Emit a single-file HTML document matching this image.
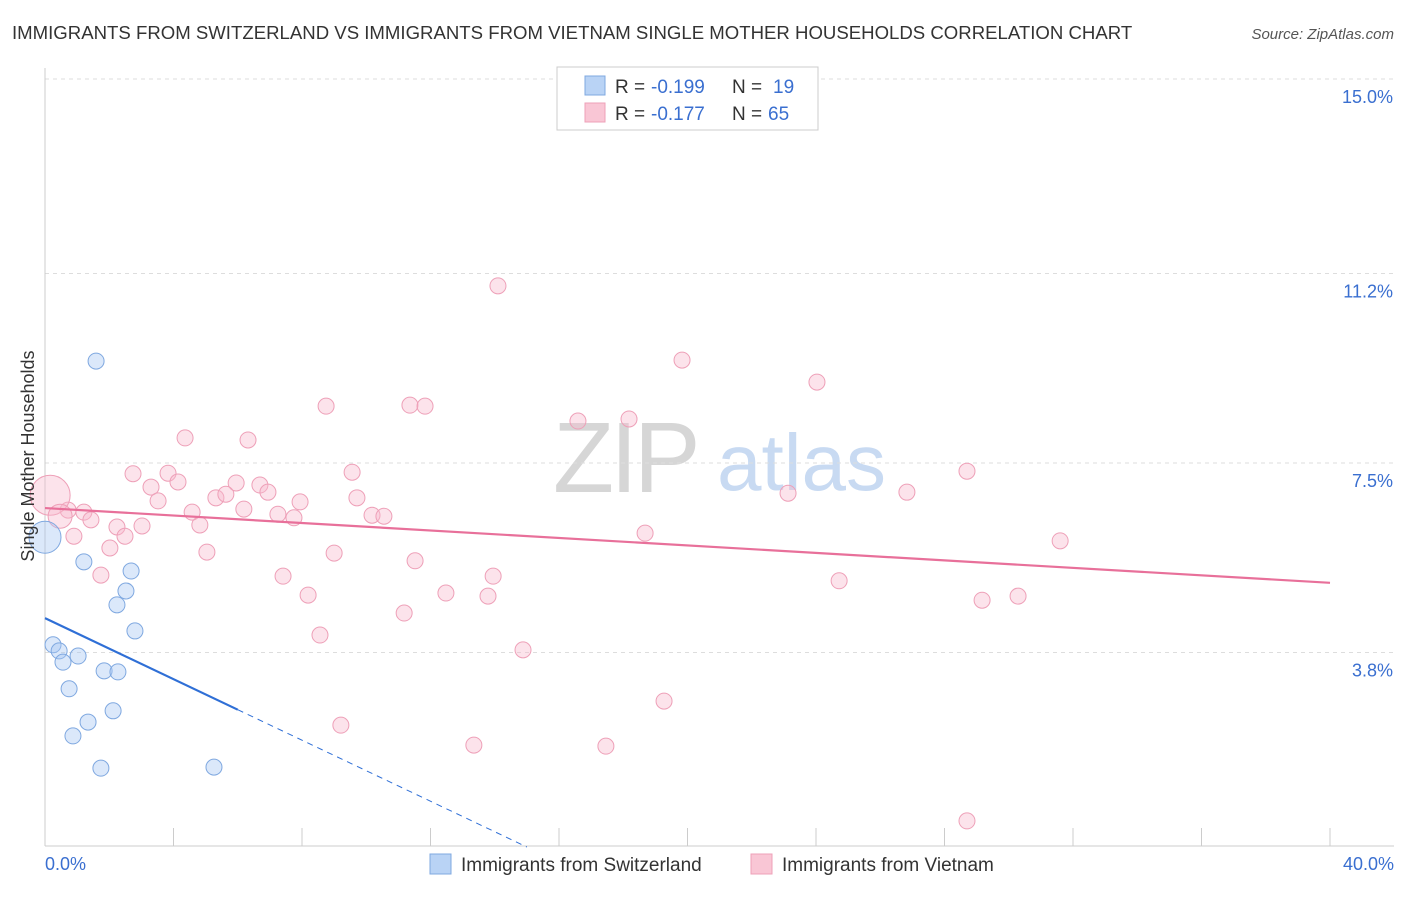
<!DOCTYPE html>
<html><head><meta charset="utf-8"><style>
body{margin:0;background:#fff;font-family:"Liberation Sans",sans-serif;}
svg text{font-family:"Liberation Sans",sans-serif;}
</style></head><body>
<svg id="chart" width="1406" height="892" viewBox="0 0 1406 892">
<text x="12" y="39" font-size="18.6" fill="#333">IMMIGRANTS FROM SWITZERLAND VS IMMIGRANTS FROM VIETNAM SINGLE MOTHER HOUSEHOLDS CORRELATION CHART</text>
<text x="1394" y="39" font-size="15" fill="#555" font-style="italic" text-anchor="end">Source: ZipAtlas.com</text>
<g>
<text x="553" y="492" font-size="100" fill="#d6d6d6" font-family="Liberation Serif" letter-spacing="-4">ZIP</text>
<text x="717" y="490" font-size="80" fill="#c8daf2">atlas</text>
</g>
<g id="grid"></g><g id="axes"></g><g id="marks"></g>
<text transform="translate(34,456) rotate(-90)" font-size="18" fill="#333" text-anchor="middle">Single Mother Households</text>
<g>
<rect x="557" y="67" width="261" height="63" fill="#fff" stroke="#ccc"/>
<rect x="585" y="76" width="20" height="19" fill="#b9d3f5" stroke="#7fa8e0"/>
<rect x="585" y="103" width="20" height="19" fill="#f9c6d5" stroke="#eea0b8"/>
<text x="615" y="93" font-size="19" fill="#333">R =</text>
<text x="651" y="93" font-size="19" fill="#3a6fd0">-0.199</text>
<text x="732" y="93" font-size="19" fill="#333">N =</text>
<text x="773" y="93" font-size="19" fill="#3a6fd0">19</text>
<text x="615" y="120" font-size="19" fill="#333">R =</text>
<text x="651" y="120" font-size="19" fill="#3a6fd0">-0.177</text>
<text x="732" y="120" font-size="19" fill="#333">N =</text>
<text x="768" y="120" font-size="19" fill="#3a6fd0">65</text>
</g>
<g>
<rect x="430" y="854" width="21" height="20" fill="#b9d3f5" stroke="#7fa8e0"/>
<text x="461" y="871" font-size="19" fill="#333">Immigrants from Switzerland</text>
<rect x="751" y="854" width="21" height="20" fill="#f9c6d5" stroke="#eea0b8"/>
<text x="782" y="871" font-size="19" fill="#333">Immigrants from Vietnam</text>
</g>
</svg>
<script>
const yTicks=[15.0,11.2,7.5,3.8];
const yTickLabels=["15.0%","11.2%","7.5%","3.8%"];
const xTickLabels=["0.0%","40.0%"];
const swissX=[1.59,1.21,2.68,2.52,2.24,2.80,0.25,0.44,1.03,0.56,1.84,2.27,0.75,2.12,1.34,0.87,1.74,5.26,0.0];
const swissY=[9.49,5.57,5.39,5.00,4.73,4.22,3.95,3.83,3.73,3.61,3.44,3.42,3.09,2.66,2.44,2.17,1.54,1.56,6.05];
const swissR=[8,8,8,8,8,8,8,8,8,8,8,8,8,8,8,8,8,8,16];
const vietX=[14.10,19.83,24.03,8.75,11.36,11.83,16.59,18.18,4.36,6.32,9.56,28.70,2.74,3.83,3.30,4.14,5.95,6.69,6.94,3.52,5.32,5.63,7.94,9.71,23.13,26.83,6.19,4.58,7.25,7.75,10.18,10.55,1.21,0.72,1.43,2.24,3.02,4.82,2.49,0.90,18.68,31.60,2.02,5.04,9.00,11.52,1.74,7.41,13.95,24.72,8.19,12.48,13.79,29.17,30.29,11.18,8.56,14.88,19.27,9.21,13.35,17.46,28.70,0.16,0.47];
const vietY=[10.96,9.51,9.08,8.61,8.63,8.61,8.32,8.36,7.99,7.95,7.32,7.34,7.29,7.30,7.03,7.13,7.11,7.07,6.93,6.76,6.82,6.89,6.74,6.82,6.91,6.93,6.60,6.54,6.50,6.43,6.48,6.46,6.54,6.58,6.39,6.25,6.27,6.29,6.07,6.07,6.13,5.98,5.84,5.76,5.74,5.59,5.31,5.29,5.29,5.20,4.92,4.96,4.90,4.82,4.90,4.57,4.14,3.85,2.85,2.38,1.99,1.97,0.51,6.87,6.46];
const swissLine=[4.47,-0.298];
const vietLine=[6.62,-0.0365];
const X=v=>45+v*32.125, Y=v=>79+(15-v)*51.2;
const NS="http://www.w3.org/2000/svg";
function mk(t,a,p){const e=document.createElementNS(NS,t);for(const k in a)e.setAttribute(k,a[k]);p.appendChild(e);return e;}
const grid=document.getElementById('grid'),axes=document.getElementById('axes'),marks=document.getElementById('marks');
yTicks.forEach((v,i)=>{
 const l=mk('line',{x1:45,x2:1394,y1:Y(v),y2:Y(v),stroke:'#ddd','stroke-dasharray':'4,4'},grid);
 
 
 const t=mk('text',{x:1393,y:Y(v)+24,'font-size':18,fill:'#3a6fd0','text-anchor':'end'},axes);
 t.textContent=yTickLabels[i];
 
 
});
const ax=mk('line',{x1:45,x2:1394,y1:846,y2:846,stroke:'#ccc'},axes);


const ay=mk('line',{x1:45,x2:45,y1:68,y2:846,stroke:'#ccc'},axes);


for(let i=0;i<=10;i++){
 const tk=mk('line',{x1:X(i*4),x2:X(i*4),y1:828,y2:846,stroke:'#ccc'},axes);
 
 
}
[[0,'start',45],[40,'end',1394]].forEach((d,i)=>{
 const t=mk('text',{x:d[2],y:870,'font-size':18,fill:'#3a6fd0','text-anchor':d[1]},axes);
 t.textContent=xTickLabels[i];
 
 
});
vietX.forEach((x,i)=>{
 const r=i==63?20:(i==64?12:8);
 const c=mk('circle',{cx:X(x),cy:Y(vietY[i]),r:r,fill:'rgba(248,185,205,0.4)',stroke:'#eea0b8','stroke-width':1},marks);
 
 
});
swissX.forEach((x,i)=>{
 const c=mk('circle',{cx:X(x),cy:Y(swissY[i]),r:swissR[i],fill:'rgba(165,198,242,0.4)',stroke:'#7fa8e0','stroke-width':1},marks);
 
 
});
const vl=mk('line',{x1:X(0),y1:Y(vietLine[0]),x2:X(40),y2:Y(vietLine[0]+40*vietLine[1]),stroke:'#e8709a','stroke-width':2.2},marks);


const sl=mk('line',{x1:X(0),y1:Y(swissLine[0]),x2:X(6),y2:Y(swissLine[0]+6*swissLine[1]),stroke:'#2f6fd6','stroke-width':2.2},marks);


const xe=-swissLine[0]/swissLine[1];
const sd=mk('line',{x1:X(6),y1:Y(swissLine[0]+6*swissLine[1]),x2:X(xe),y2:Y(0),stroke:'#2f6fd6','stroke-width':1,'stroke-dasharray':'6,5'},marks);


</script>
</body></html>
